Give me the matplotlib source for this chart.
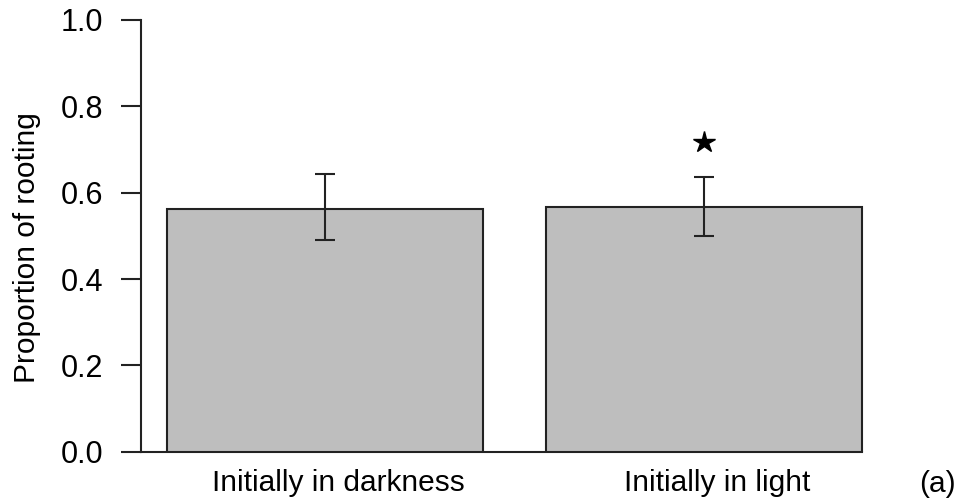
import numpy as np
import matplotlib.pyplot as plt
import matplotlib.transforms as mtransforms

plt.rcParams['font.family'] = ['Liberation Sans', 'DejaVu Sans']

categories = ["Initially in darkness", "Initially in light"]
proportions = [0.562, 0.566]
err_upper = [0.642, 0.636]
err_lower = [0.490, 0.499]
star_y = [0.717]
star_idx = [1]

x = np.array([0.0, 1.2])
props = np.array(proportions)
yerr = np.array([props - np.array(err_lower), np.array(err_upper) - props])

fig = plt.figure(figsize=(9.58, 4.99), dpi=100)
ax = fig.add_axes([0.1472, 0.0942, 0.8528, 0.8667])

ax.bar(x, props, width=1.0, color='#bebebe', edgecolor='#222222', linewidth=1.5, zorder=2)
ax.errorbar(x, props, yerr=yerr, fmt='none', ecolor='#222222', elinewidth=1.5,
            capsize=7, capthick=1.5, zorder=3)
ax.plot(x[star_idx], star_y, marker='*', color='black', markersize=16, linestyle='none', zorder=3)

ax.set_xlim(-0.582, 2.003)
ax.set_ylim(0, 1.0)
# baseline from axis to the right edge of the last bar
ax.plot([-0.582, x[-1] + 0.5], [0, 0], color='#222222', linewidth=1.5, clip_on=False, zorder=1)

for s in ['top', 'right', 'bottom']:
    ax.spines[s].set_visible(False)
ax.spines['left'].set_bounds(0, 1.0)
ax.spines['left'].set_linewidth(1.5)
ax.spines['left'].set_color('#222222')

ax.set_yticks([0.0, 0.2, 0.4, 0.6, 0.8, 1.0])
ax.set_yticklabels(['0.0', '0.2', '0.4', '0.6', '0.8', '1.0'])
ax.tick_params(axis='y', length=14.4, width=1.5, color='#222222', labelsize=22, pad=13)
ax.set_xticks(x)
ax.set_xticklabels(categories)
ax.tick_params(axis='x', length=0, labelsize=21.5, pad=12.5)
# labels sit a little right of the bar centres in the original
shift = mtransforms.ScaledTranslation(13 / 100, 0, fig.dpi_scale_trans)
for lab in ax.get_xticklabels():
    lab.set_transform(lab.get_transform() + shift)

ax.set_ylabel('Proportion of rooting', fontsize=21.5)
ax.yaxis.set_label_coords(-0.123, 0.472)

fig.text(0.979, 0.030, '(a)', fontsize=21.5, ha='center', va='center')

fig.savefig('out.png', dpi=100)
